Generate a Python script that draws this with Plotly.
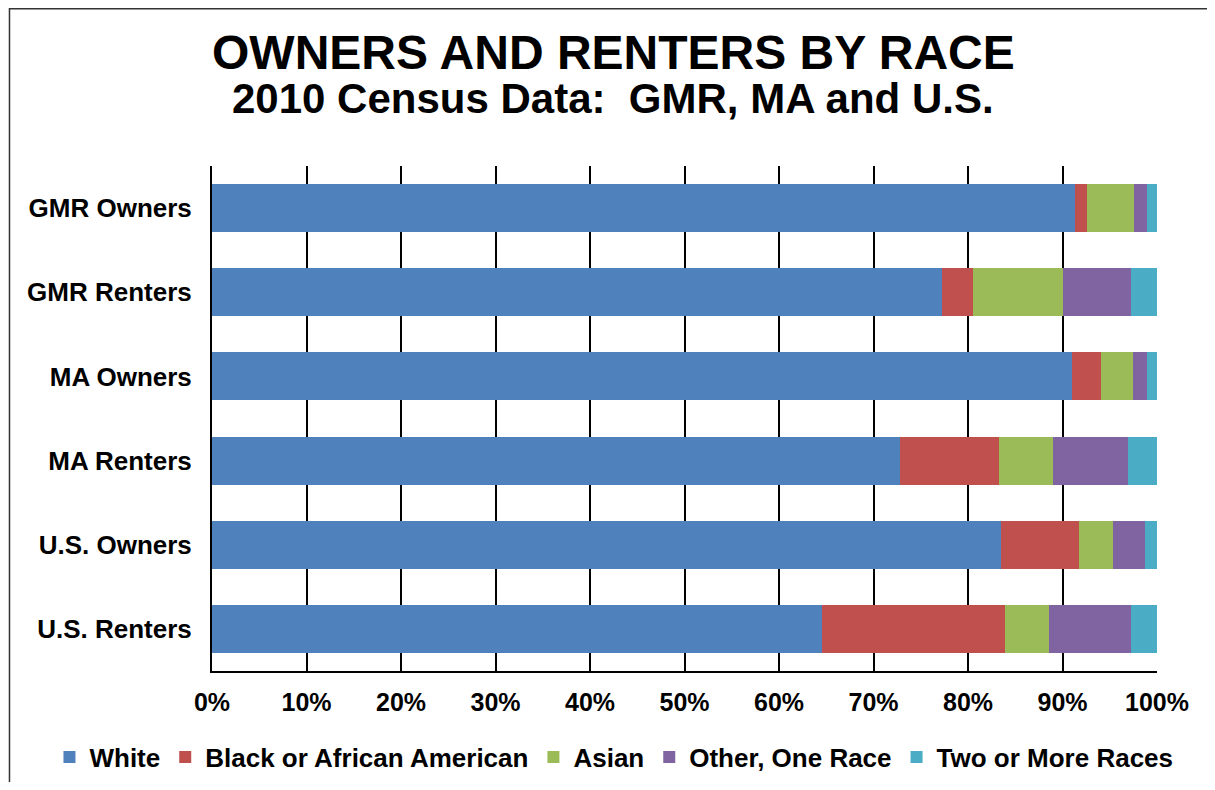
import plotly.graph_objects as go

categories = ["GMR Owners", "GMR Renters", "MA Owners", "MA Renters", "U.S. Owners", "U.S. Renters"]
series_names = ["White", "Black or African American", "Asian", "Other, One Race", "Two or More Races"]
white = [91.35, 77.3, 91.0, 72.8, 83.5, 64.5]
black = [1.2, 3.2, 3.1, 10.45, 8.2, 19.4]
asian = [5.05, 9.5, 3.4, 5.7, 3.6, 4.7]
other = [1.3, 7.2, 1.45, 8.0, 3.4, 8.6]
two_more = [1.1, 2.8, 1.05, 3.05, 1.3, 2.8]
colors = ["#4F81BD", "#C0504D", "#9BBB59", "#8064A2", "#4BACC6"]
tick_vals = [0, 10, 20, 30, 40, 50, 60, 70, 80, 90, 100]
tick_text = [f"{v}%" for v in tick_vals]

FONT = "Liberation Sans, Arial, sans-serif"

fig = go.Figure()
for name, vals, col in zip(series_names, [white, black, asian, other, two_more], colors):
    fig.add_trace(go.Bar(
        y=categories, x=vals, name=name, orientation="h",
        marker=dict(color=col, line=dict(width=0)),
    ))

# the page body adds an 8px margin, so the figure is sized/offset to compensate
fig.update_layout(
    barmode="stack",
    bargap=0.43,
    width=1199, height=774,
    margin=dict(l=203.5, r=49.5, t=158, b=111, autoexpand=False),
    paper_bgcolor="white", plot_bgcolor="white",
    font=dict(family=FONT, color="black"),
    showlegend=True,
    legend=dict(orientation="h", x=-0.172, xanchor="left", y=-0.1703, yanchor="middle",
                font=dict(size=26, family=FONT, color="black", weight="bold"),
                itemwidth=30, tracegroupgap=0, traceorder="normal",
                bgcolor="rgba(0,0,0,0)"),
    annotations=[
        dict(text="<b>OWNERS AND RENTERS BY RACE</b>", xref="paper", yref="paper",
             x=0.4244, y=1.2238, xanchor="center", yanchor="middle", showarrow=False,
             font=dict(size=48, family=FONT, color="black")),
        dict(text="<b>2010 Census Data:  GMR, MA and U.S.</b>", xref="paper", yref="paper",
             x=0.4245, y=1.1337, xanchor="center", yanchor="middle", showarrow=False,
             font=dict(size=42, family=FONT, color="black")),
    ],
    shapes=[
        dict(type="rect", xref="paper", yref="paper", x0=-0.2143, x1=1.2, y0=-0.3, y1=1.3114,
             line=dict(color="#333333", width=1.5), layer="below"),
    ],
)
fig.update_xaxes(
    range=[0, 100], tickvals=tick_vals, ticktext=tick_text,
    showgrid=True, gridcolor="black", gridwidth=2,
    showline=True, linecolor="black", linewidth=2, mirror=False,
    ticks="", tickfont=dict(size=25, family=FONT, color="black", weight="bold"),
    ticklabelstandoff=8, zeroline=False, fixedrange=True,
)
fig.update_yaxes(
    autorange="reversed", showline=True, linecolor="black", linewidth=2,
    ticks="", tickfont=dict(size=26, family=FONT, color="black", weight="bold"),
    ticklabelstandoff=13, showgrid=False,
)

fig.write_html("out.html")
